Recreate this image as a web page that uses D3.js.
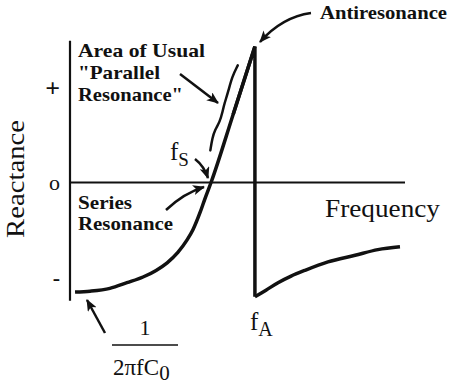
<!DOCTYPE html>
<html>
<head>
<meta charset="utf-8">
<script src="https://cdn.jsdelivr.net/npm/d3@7"></script>
<style>
  body { margin: 0; background: #fff; }
  svg { display: block; }
</style>
</head>
<body>
<svg width="455" height="386"></svg>
<script>
var freqLow = [1.5, 6.0, 11.9, 17.0, 21.8, 25.7, 29.0, 32.2, 34.9, 36.7, 38.8, 40.3, 42.1, 48.7, 55.2];
var reactLow = [-1.16, -1.15, -1.12, -1.06, -1.0, -0.93, -0.85, -0.74, -0.61, -0.5, -0.32, -0.17, 0.0, 0.72, 1.44];
var freqHigh = [55.2, 58.5, 62.1, 66.0, 70.1, 77.0, 85.1, 91.9, 98.5];
var reactHigh = [-1.21, -1.14, -1.06, -0.99, -0.93, -0.84, -0.77, -0.71, -0.68];
var tickValues = [-1, 0, 1];
var tickLabels = ["-", "o", "+"];

var svg = d3.select("svg");
var serif = "'Liberation Serif', 'Times New Roman', Times, serif";

var x = d3.scaleLinear().domain([0, 100]).range([70, 405]),
    y = d3.scaleLinear().domain([-1, 1]).range([277, 88]);

var low = freqLow.map(function(f, i) { return {f: f, r: reactLow[i]}; });
var high = freqHigh.map(function(f, i) { return {f: f, r: reactHigh[i]}; });

// pijlpunt
svg.append("defs").append("marker")
    .attr("id", "head")
    .attr("markerUnits", "userSpaceOnUse")
    .attr("viewBox", "0 0 12 10")
    .attr("refX", 11).attr("refY", 5)
    .attr("markerWidth", 12).attr("markerHeight", 10)
    .attr("orient", "auto")
    .append("path")
    .attr("d", "M0,0 L12,5 L0,10 L3,5 Z")
    .attr("fill", "#111");

// assen
svg.append("line")
    .attr("x1", x(0)).attr("x2", x(0))
    .attr("y1", y(1.5)).attr("y2", y(-1.25))
    .attr("stroke", "#111").attr("stroke-width", 2.2);

svg.append("line")
    .attr("x1", x(0)).attr("x2", x(100))
    .attr("y1", y(0)).attr("y2", y(0))
    .attr("stroke", "#111").attr("stroke-width", 2);

var yAxis = svg.append("g")
    .attr("transform", "translate(" + x(0) + ",0)")
    .call(d3.axisLeft(y).tickValues(tickValues).tickSize(0).tickPadding(10)
        .tickFormat(function(d, i) { return tickLabels[i]; }));
yAxis.select(".domain").remove();
yAxis.selectAll("text")
    .style("font-size", function(d) { return d === 1 ? "26px" : "22px"; })
    .style("font-weight", function(d) { return d === 0 ? "normal" : "bold"; })
    .attr("fill", "#111");

// curve
var line = d3.line()
    .x(function(d) { return x(d.f); })
    .y(function(d) { return y(d.r); })
    .curve(d3.curveMonotoneX);

svg.append("path")
    .datum(low)
    .attr("d", line)
    .attr("fill", "none").attr("stroke", "#111").attr("stroke-width", 3.5);

svg.append("path")
    .datum(high)
    .attr("d", line)
    .attr("fill", "none").attr("stroke", "#111").attr("stroke-width", 3.5);

// val bij de antiresonantie
var peak = low[low.length - 1], bottom = high[0];
svg.append("path")
    .attr("d", "M" + x(low[low.length - 2].f) + "," + y(low[low.length - 2].r) +
        "L" + x(peak.f) + "," + y(peak.r) + "L" + x(bottom.f) + "," + y(bottom.r))
    .attr("fill", "none").attr("stroke", "#111").attr("stroke-width", 3.5)
    .attr("stroke-linejoin", "miter");

// accolade langs het steile stuk (verschuiving in frequentie, hoogte in reactantie)
var brace = [[-3.3, 0.34], [-3.9, 0.47], [-3.9, 0.56], [-3.2, 0.64], [-3.4, 0.76], [-3.6, 0.83], [-3.6, 0.95], [-3.9, 1.12], [-3.3, 1.24]];
var fs = low[12];
var slope = (peak.r - fs.r) / (peak.f - fs.f);
svg.append("path")
    .datum(brace.map(function(b) {
        return [x(fs.f + b[1] / slope + b[0]), y(b[1])];
    }))
    .attr("d", d3.line().curve(d3.curveBasis))
    .attr("fill", "none").attr("stroke", "#111").attr("stroke-width", 2.5)
    .attr("stroke-linecap", "round");

// pijlen
function arrow(d, w) {
    svg.append("path").attr("d", d)
        .attr("fill", "none").attr("stroke", "#111")
        .attr("stroke-width", w || 2.5)
        .attr("marker-end", "url(#head)");
}
arrow("M311,13 Q282,17 260,42");
arrow("M180,74 L218,103");
arrow("M195,159 Q204,166 208,178");
arrow("M166,210 Q184,193 204,187");
arrow("M105,333 L87,300");

// teksten
function note(tx, ty, w, s) {
    svg.append("text").attr("class", "note")
        .attr("x", tx).attr("y", ty)
        .attr("font-size", 19).attr("font-weight", "bold")
        .attr("textLength", w).attr("lengthAdjust", "spacingAndGlyphs")
        .text(s);
}
note(320, 19, 127, "Antiresonance");
note(78, 57, 127, "Area of Usual");
note(78, 79, 82, "\"Parallel");
note(78, 101, 105, "Resonance\"");
note(78, 209, 54, "Series");
note(78, 230, 95, "Resonance");

svg.append("text")
    .attr("x", 325).attr("y", 217)
    .attr("font-size", 26)
    .attr("textLength", 115).attr("lengthAdjust", "spacingAndGlyphs")
    .text("Frequency");

svg.append("text")
    .attr("transform", "translate(24,179) rotate(-90)")
    .attr("text-anchor", "middle")
    .attr("font-size", 26)
    .attr("textLength", 118).attr("lengthAdjust", "spacingAndGlyphs")
    .text("Reactance");

var fsLabel = svg.append("text").attr("x", 170).attr("y", 160).attr("font-size", 25);
fsLabel.append("tspan").text("f");
fsLabel.append("tspan").attr("font-size", 19).attr("dy", 6).text("S");

var faLabel = svg.append("text").attr("x", 250).attr("y", 330).attr("font-size", 25);
faLabel.append("tspan").text("f");
faLabel.append("tspan").attr("font-size", 20).attr("dy", 6).text("A");

// breuk 1 / 2πfC0
svg.append("text").attr("x", 145).attr("y", 335)
    .attr("text-anchor", "middle").attr("font-size", 22).text("1");
svg.append("line")
    .attr("x1", 112).attr("x2", 178).attr("y1", 345).attr("y2", 345)
    .attr("stroke", "#111").attr("stroke-width", 1.5);
var frac = svg.append("text").attr("x", 113).attr("y", 375).attr("font-size", 23);
frac.append("tspan").text("2πfC");
frac.append("tspan").attr("font-size", 21).attr("dy", 5).text("0");

// alle tekst in een schreefletter
svg.selectAll("text").style("font-family", serif).attr("fill", "#111");
</script>
</body>
</html>
